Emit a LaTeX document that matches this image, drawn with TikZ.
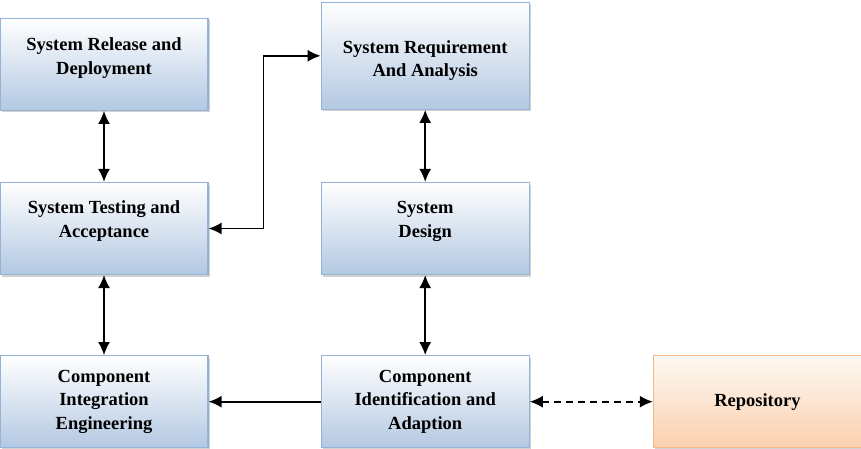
\documentclass[tikz,border=0pt]{standalone}
\usepackage{fontspec}
\setmainfont{Liberation Serif}
\usepackage{tikz}
\usetikzlibrary{arrows.meta,positioning,shadows}
\definecolor{boxblue}{HTML}{B3C8E2}
\definecolor{boxline}{HTML}{95B3D7}
\definecolor{repopeach}{HTML}{FAD0AE}
\definecolor{repoline}{HTML}{F5B985}
\tikzset{
	phasebox/.style={rectangle, draw=boxline, line width=1.2pt, top color=white, bottom color=boxblue,
		minimum width=208pt, minimum height=92pt, align=center, inner sep=2pt,
		font=\fontsize{18.5}{23.5}\selectfont\bfseries,
		drop shadow={shadow xshift=2pt, shadow yshift=-2pt, fill=black!35}},
	repobox/.style={phasebox, draw=repoline, top color=repopeach!15, bottom color=repopeach},
	flow/.style={line width=1.6pt, >={Latex[length=13pt,width=12pt]}}
}
\begin{document}
\begin{tikzpicture}[x=1pt,y=1pt]
		\useasboundingbox (0,0) rectangle (861,-449);
		%			\draw [help lines] (0,0) grid (861,-449);
		\node [phasebox] (testing) at (104,-228.5) {System Testing and\\Acceptance\\[-12pt]\strut};
		\node [phasebox, above=71pt of testing] (release) {System Release and\\Deployment\\[-14pt]\strut};
		\node [phasebox, below=80pt of testing] (integration) {Component\\Integration\\Engineering};
		\node [phasebox, right=112pt of integration] (identification) {Component\\Identification and\\Adaption};
		\node [phasebox, above=80pt of identification] (design) {System\\Design\\[-12pt]\strut};
		\node [phasebox, minimum height=107pt, above=72pt of design] (requirement) {\strut\\[-18pt]System Requirement\\And Analysis};
		\node [repobox, right=123pt of identification] (repository) {Repository};
		\draw [flow, <->] (release) -- (testing);
		\draw [flow, <->] (testing) -- (integration);
		\draw [flow, <->] (requirement) -- (design);
		\draw [flow, <->] (design) -- (identification);
		\draw [flow, ->] (identification) -- (integration);
		\draw [flow, <->, dash pattern=on 7pt off 5pt] (identification) -- (repository);
		\draw [flow, <->] (testing.east) -- ++(55,0) |- (requirement.west);
	\end{tikzpicture}
\end{document}
